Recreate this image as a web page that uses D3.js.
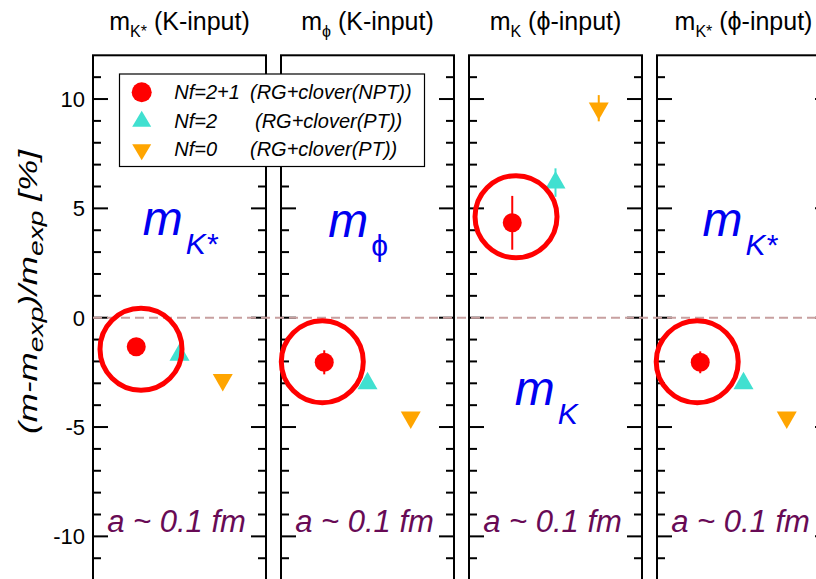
<!DOCTYPE html>
<html><head><meta charset="utf-8">
<script src="https://cdn.jsdelivr.net/npm/d3@7"></script>
<style>body{margin:0;background:#fff} svg{display:block}</style>
</head><body><svg id="c" width="816" height="579"></svg>
<script>
// ---- data ----
const panels = ["mKstar_K", "mphi_K", "mK_phi", "mKstar_phi"];
const titleSubs = ["K*", "\u03D5", "K", "K*"];
const titleRest = [" (K-input)", " (K-input)", " (\u03D5-input)", " (\u03D5-input)"];
const bigSubs = ["K*", "\u03D5", "K", "K*"];
const bigLabelX = [1.15, 1.09, 1.06, 1.05];
const bigLabelY = [3.78, 3.70, -3.99, 3.75];
const seriesX = [1, 2, 3];
const nf21 = [-1.33, -2.04, 4.34, -2.04];
const nf21Err = [0.3, 0.55, 1.23, 0.5];
const nf2 = [-1.70, -3.0, 6.18, -3.0];
const nf2Err = [0, 0, 0.65, 0];
const nf0 = [-2.84, -4.56, 9.58, -4.56];
const nf0Err = [0, 0, 0.6, 0];
const ringX = [1.11, 0.955, 1.087, 0.93];
const ringY = [-1.44, -2.01, 4.62, -2.01];
const yTicks = [-10, -5, 0, 5, 10];
const yMinor = d3.range(-11, 12, 1);
const legendNf = ["Nf=2+1", "Nf=2", "Nf=0"];
const legendAct = ["(RG+clover(NPT))", "(RG+clover(PT))", "(RG+clover(PT))"];
const latticeLabel = "a ~ 0.1 fm";

// ---- layout ----
const FONT = "'Liberation Sans', Arial, sans-serif";
const svg = d3.select("#c");
const band = d3.scaleBand().domain(panels).range([93, 830]).paddingInner(15 / 188);
const y = d3.scaleLinear().domain([-12, 12]).range([580.1, 55.3]);
const pw = band.bandwidth();
const xs = panels.map(p => d3.scaleLinear().domain([0, 4]).range([band(p), band(p) + pw]));

const RED = "#ff0000", CYAN = "#40e0d0", ORANGE = "#ffa500", BLUE = "#0000f0", PURPLE = "#680a55";

// panel boxes
svg.selectAll("rect.panel").data(panels).join("rect")
  .attr("x", p => band(p)).attr("y", y(12)).attr("width", pw).attr("height", y(-12) - y(12))
  .attr("fill", "#fff").attr("stroke", "#000").attr("stroke-width", 2);

// ticks (inside, both sides)
panels.forEach((p, i) => {
  const g = svg.append("g");
  const x0 = band(p), x1 = band(p) + pw;
  const isMajor = v => v % 5 === 0;
  g.selectAll("line.l").data(yMinor).join("line")
    .attr("x1", x0).attr("x2", v => x0 + (isMajor(v) ? 15 : 8))
    .attr("y1", v => y(v)).attr("y2", v => y(v))
    .attr("stroke", "#000").attr("stroke-width", 2);
  g.selectAll("line.r").data(yMinor).join("line")
    .attr("x1", x1).attr("x2", v => x1 - (isMajor(v) ? 15 : 8))
    .attr("y1", v => y(v)).attr("y2", v => y(v))
    .attr("stroke", "#000").attr("stroke-width", 2);
});

// y tick labels
svg.selectAll("text.yt").data(yTicks).join("text")
  .attr("x", 85).attr("y", v => y(v)).attr("dy", "0.36em")
  .attr("text-anchor", "end").attr("font-family", FONT).attr("font-size", 22)
  .text(v => v);

// y axis title
const ytg = svg.append("g").attr("transform", "translate(37,292) rotate(-90)");
const yt = ytg.append("text")
  .attr("text-anchor", "middle").attr("font-family", FONT).attr("font-size", 26)
  .attr("font-style", "italic");
yt.append("tspan").text("(m-m");
yt.append("tspan").attr("font-size", 21).attr("dy", 6).text("exp");
yt.append("tspan").attr("dy", -6).text(")/m");
yt.append("tspan").attr("font-size", 21).attr("dy", 6).text("exp");
yt.append("tspan").attr("dy", -6).text(" [%]");
const ytw = yt.node().getBBox().width;
yt.attr("transform", `scale(${285 / ytw},1)`);

// zero dashed line
svg.append("line").attr("x1", band(panels[0])).attr("x2", 816)
  .attr("y1", y(0)).attr("y2", y(0))
  .attr("stroke", "#c8a0a0").attr("stroke-width", 2).attr("stroke-dasharray", "9,5");

// big labels
panels.forEach((p, i) => {
  const t = svg.append("text")
    .attr("x", xs[i](bigLabelX[i])).attr("y", y(bigLabelY[i]))
    .attr("fill", BLUE).attr("font-family", FONT).attr("font-size", 48).attr("font-style", "italic");
  t.append("tspan").text("m");
  t.append("tspan").attr("font-size", 30).attr("dx", 3).attr("dy", 19)
    .attr("font-style", bigSubs[i] === "\u03D5" ? "normal" : "italic").text(bigSubs[i]);
});

// triangle path helper
const tri = (w, h, up) => up
  ? `M0,${-2 * h / 3}L${w / 2},${h / 3}L${-w / 2},${h / 3}Z`
  : `M0,${2 * h / 3}L${w / 2},${-h / 3}L${-w / 2},${-h / 3}Z`;

// markers
panels.forEach((p, i) => {
  const g = svg.append("g");
  const x = xs[i];
  [[nf2, nf2Err, CYAN, 1], [nf0, nf0Err, ORANGE, 2], [nf21, nf21Err, RED, 0]].forEach(([v, e, c, k]) => {
    if (e[i] > 0) g.append("line")
      .attr("x1", x(seriesX[k])).attr("x2", x(seriesX[k]))
      .attr("y1", y(v[i] - e[i])).attr("y2", y(v[i] + e[i]))
      .attr("stroke", c).attr("stroke-width", 2);
  });
  g.append("path").attr("d", tri(20, 17.5, true))
    .attr("transform", `translate(${x(seriesX[1])},${y(nf2[i])})`).attr("fill", CYAN);
  g.append("path").attr("d", tri(20, 17.5, false))
    .attr("transform", `translate(${x(seriesX[2])},${y(nf0[i])})`).attr("fill", ORANGE);
  g.append("circle").attr("cx", x(seriesX[0])).attr("cy", y(nf21[i])).attr("r", 9.5).attr("fill", RED);
  g.append("circle").attr("cx", x(ringX[i])).attr("cy", y(ringY[i])).attr("r", 41)
    .attr("fill", "none").attr("stroke", RED).attr("stroke-width", 5);
});

// lattice spacing labels
svg.selectAll("text.a").data(panels).join("text")
  .attr("x", p => band(p) + pw / 2 - 3).attr("y", y(-10) - 4)
  .attr("text-anchor", "middle").attr("fill", PURPLE)
  .attr("font-family", FONT).attr("font-size", 31).attr("font-style", "italic")
  .text(latticeLabel);

// legend
const lg = svg.append("g");
lg.append("rect").attr("x", 119.5).attr("y", 74).attr("width", 305).attr("height", 92.5)
  .attr("fill", "#fff").attr("stroke", "#000").attr("stroke-width", 1.2);
const rowY = [92.3, 120.5, 148.7];
lg.append("circle").attr("cx", 141.7).attr("cy", rowY[0]).attr("r", 10).attr("fill", RED);
lg.append("path").attr("d", tri(19, 16, true)).attr("transform", `translate(141.7,${rowY[1] + 1})`).attr("fill", CYAN);
lg.append("path").attr("d", tri(19, 16, false)).attr("transform", `translate(141.7,${rowY[2] + 1})`).attr("fill", ORANGE);
legendNf.forEach((s, k) => {
  lg.append("text").attr("x", 174.3).attr("y", rowY[k] + 7)
    .attr("font-family", FONT).attr("font-size", 20).attr("font-style", "italic").text(s);
  lg.append("text").attr("x", k === 1 ? 255 : 250).attr("y", rowY[k] + 7)
    .attr("font-family", FONT).attr("font-size", 20).attr("font-style", "italic").text(legendAct[k]);
});

// titles
panels.forEach((p, i) => {
  const t = svg.append("text")
    .attr("x", band(p) + pw / 2).attr("y", 30).attr("text-anchor", "middle")
    .attr("font-family", FONT).attr("font-size", 25);
  t.append("tspan").text("m");
  t.append("tspan").attr("font-size", 16).attr("dy", 7).text(titleSubs[i]);
  t.append("tspan").attr("dy", -7).text(titleRest[i]);
});
</script></body></html>
